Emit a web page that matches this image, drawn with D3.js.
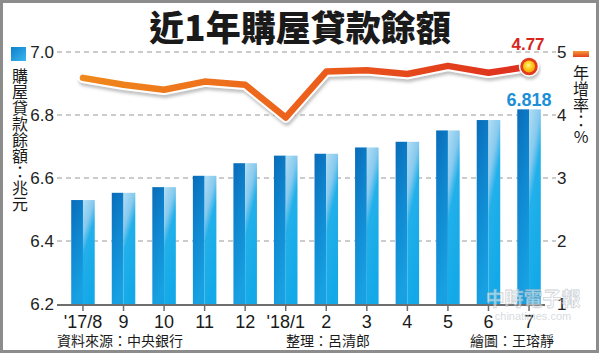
<!DOCTYPE html>
<html>
<head>
<meta charset="utf-8">
<script src="https://cdn.jsdelivr.net/npm/d3@7"></script>
<style>
  html, body { margin: 0; padding: 0; background: #fff; }
  svg { display: block; }
</style>
</head>
<body>
<svg id="chart"></svg>
<script>
const width = 600;
const height = 354;

// 資料
const months = ["'17/8", "9", "10", "11", "12", "'18/1", "2", "3", "4", "5", "6", "7"];
const loanBalance = [6.530, 6.553, 6.571, 6.607, 6.647, 6.671, 6.677, 6.697, 6.715, 6.751, 6.784, 6.818];
const growthRate = [4.59, 4.48, 4.40, 4.53, 4.48, 3.96, 4.69, 4.71, 4.65, 4.78, 4.67, 4.77];
const leftTicks = [6.2, 6.4, 6.6, 6.8, 7.0];
const rightTicks = [1, 2, 3, 4, 5];

const cjk = "'Noto Sans CJK TC', 'Noto Sans', sans-serif";
const num = "'Liberation Sans', Arial, sans-serif";
const narrow = "'Liberation Sans Narrow', 'Liberation Sans', sans-serif";

const svg = d3.select("#chart").attr("width", width).attr("height", height);

const defs = svg.append("defs");

// 柱子漸層
const gDark = defs.append("linearGradient").attr("id", "barDark")
  .attr("x1", 0).attr("y1", 0).attr("x2", 0.25).attr("y2", 1);
gDark.append("stop").attr("offset", 0).attr("stop-color", "#0a6cb9");
gDark.append("stop").attr("offset", 0.45).attr("stop-color", "#0f86cf");
gDark.append("stop").attr("offset", 1).attr("stop-color", "#17a0e2");

const gLight = defs.append("linearGradient").attr("id", "barLight")
  .attr("x1", 0).attr("y1", 0).attr("x2", 0.35).attr("y2", 1);
gLight.append("stop").attr("offset", 0).attr("stop-color", "#b3def3");
gLight.append("stop").attr("offset", 0.3).attr("stop-color", "#86c9ee");
gLight.append("stop").attr("offset", 0.48).attr("stop-color", "#22b0ea");
gLight.append("stop").attr("offset", 1).attr("stop-color", "#13a9e8");

const gLegendBlue = defs.append("linearGradient").attr("id", "legBlue")
  .attr("x1", 0).attr("y1", 0).attr("x2", 1).attr("y2", 1);
gLegendBlue.append("stop").attr("offset", 0).attr("stop-color", "#0d7fcc");
gLegendBlue.append("stop").attr("offset", 1).attr("stop-color", "#3ab8ee");

const gLegendRed = defs.append("linearGradient").attr("id", "legRed")
  .attr("x1", 0).attr("y1", 0).attr("x2", 0).attr("y2", 1);
gLegendRed.append("stop").attr("offset", 0).attr("stop-color", "#f59a3a");
gLegendRed.append("stop").attr("offset", 1).attr("stop-color", "#e2401c");

const shadow = defs.append("filter").attr("id", "shadow")
  .attr("x", "-10%").attr("y", "-30%").attr("width", "120%").attr("height", "160%");
shadow.append("feDropShadow").attr("dx", 1).attr("dy", 3).attr("stdDeviation", 1.6)
  .attr("flood-color", "#777").attr("flood-opacity", 0.45);

const marker = defs.append("radialGradient").attr("id", "dot")
  .attr("cx", "45%").attr("cy", "40%").attr("r", "60%");
marker.append("stop").attr("offset", 0).attr("stop-color", "#fff6a8");
marker.append("stop").attr("offset", 0.45).attr("stop-color", "#ffd21f");
marker.append("stop").attr("offset", 1).attr("stop-color", "#f5a20e");

// 外框
svg.append("rect").attr("x", 1.5).attr("y", 1.5).attr("width", 596).attr("height", 350)
  .attr("fill", "#fff").attr("stroke", "#8c8c8c").attr("stroke-width", 3);

// 比例尺
const x = d3.scaleBand().domain(months).range([62.7, 549.3]).paddingInner(0.42).paddingOuter(0.21);
const yL = d3.scaleLinear().domain([6.2, 7.0]).range([304, 52]);
const yR = d3.scaleLinear().domain([1, 5]).range([304, 52]);

// 標題
svg.append("text").attr("x", 300).attr("y", 41).attr("text-anchor", "middle")
  .attr("font-family", cjk).attr("font-weight", 900).attr("font-size", 35)
  .attr("fill", "#1a1a1a").text("近1年購屋貸款餘額");

// 格線
svg.append("g").selectAll("line").data(leftTicks.slice(1)).join("line")
  .attr("x1", 57).attr("x2", 556)
  .attr("y1", (d) => yL(d)).attr("y2", (d) => yL(d))
  .attr("stroke", "#9a9a9a").attr("stroke-width", 1.2).attr("stroke-dasharray", "5,4");

// 左軸標籤
svg.append("g").selectAll("text").data(leftTicks).join("text")
  .attr("x", 54).attr("y", (d) => yL(d) + 6)
  .attr("text-anchor", "end").attr("font-family", num).attr("font-size", 17)
  .attr("fill", "#222").text((d) => d.toFixed(1));

// 右軸標籤
svg.append("g").selectAll("text").data(rightTicks).join("text")
  .attr("x", 557).attr("y", (d) => yR(d) + 6)
  .attr("font-family", num).attr("font-size", 17)
  .attr("fill", "#222").text((d) => d);

// 柱狀圖
const bars = svg.append("g").selectAll("g").data(months).join("g");
bars.append("rect")
  .attr("x", (d) => x(d)).attr("width", x.bandwidth() / 2)
  .attr("y", (d, i) => yL(loanBalance[i])).attr("height", (d, i) => yL(6.2) - yL(loanBalance[i]))
  .attr("fill", "url(#barDark)");
bars.append("rect")
  .attr("x", (d) => x(d) + x.bandwidth() / 2).attr("width", x.bandwidth() / 2)
  .attr("y", (d, i) => yL(loanBalance[i])).attr("height", (d, i) => yL(6.2) - yL(loanBalance[i]))
  .attr("fill", "url(#barLight)");

// 底線與刻度
svg.append("line").attr("x1", 57).attr("x2", 545).attr("y1", yL(6.2) + 1).attr("y2", yL(6.2) + 1)
  .attr("stroke", "#6e6e6e").attr("stroke-width", 2);
svg.append("g").selectAll("line").data(months).join("line")
  .attr("x1", (d) => x(d) + x.bandwidth() / 2).attr("x2", (d) => x(d) + x.bandwidth() / 2)
  .attr("y1", yL(6.2) + 2).attr("y2", yL(6.2) + 7)
  .attr("stroke", "#6e6e6e").attr("stroke-width", 1.5);

// X 軸標籤
svg.append("g").selectAll("text").data(months).join("text")
  .attr("x", (d) => x(d) + x.bandwidth() / 2).attr("y", 328)
  .attr("text-anchor", "middle").attr("font-family", num).attr("font-size", 18)
  .attr("fill", "#1a1a1a").text((d) => d);

// 年增率折線
const lineGrad = defs.append("linearGradient").attr("id", "lineGrad")
  .attr("gradientUnits", "userSpaceOnUse")
  .attr("x1", x(months[0])).attr("x2", x(months[months.length - 1]) + x.bandwidth())
  .attr("y1", 0).attr("y2", 0);
lineGrad.append("stop").attr("offset", 0).attr("stop-color", "#f08a1a");
lineGrad.append("stop").attr("offset", 0.5).attr("stop-color", "#ec601c");
lineGrad.append("stop").attr("offset", 1).attr("stop-color", "#dc2a20");

const line = d3.line()
  .x((d, i) => x(months[i]) + x.bandwidth() / 2)
  .y((d) => yR(d));

const lineG = svg.append("g").attr("filter", "url(#shadow)");
lineG.append("path").datum(growthRate).attr("d", line)
  .attr("fill", "none").attr("stroke", "#fff").attr("stroke-width", 10.5)
  .attr("stroke-linejoin", "round").attr("stroke-linecap", "round");
lineG.append("path").datum(growthRate).attr("d", line)
  .attr("fill", "none").attr("stroke", "url(#lineGrad)").attr("stroke-width", 6.5)
  .attr("stroke-linejoin", "round").attr("stroke-linecap", "round");

// 最後一點
const lastX = x(months[11]) + x.bandwidth() / 2;
const lastY = yR(growthRate[11]);
svg.append("circle").attr("cx", lastX).attr("cy", lastY).attr("r", 9.5)
  .attr("fill", "#e23a1e").attr("stroke", "#fff").attr("stroke-width", 1.5)
  .attr("filter", "url(#shadow)");
svg.append("circle").attr("cx", lastX).attr("cy", lastY).attr("r", 6)
  .attr("fill", "url(#dot)");

// 數值標示
svg.append("text").attr("x", lastX - 1).attr("y", 50).attr("text-anchor", "middle")
  .attr("font-family", narrow).attr("font-weight", "bold").attr("font-size", 17)
  .attr("fill", "#d7261e").text(growthRate[11].toFixed(2));
svg.append("text").attr("x", lastX).attr("y", 106).attr("text-anchor", "middle")
  .attr("font-family", narrow).attr("font-weight", "bold").attr("font-size", 18)
  .attr("fill", "#1b8fd8").text(loanBalance[11].toFixed(3));

// 左側圖例（直排）
svg.append("rect").attr("x", 11).attr("y", 47).attr("width", 15).attr("height", 14)
  .attr("fill", "url(#legBlue)");
svg.append("text").attr("x", 20).attr("y", 68)
  .style("writing-mode", "vertical-rl").style("text-orientation", "upright")
  .attr("font-family", cjk).attr("font-size", 16)
  .attr("fill", "#1a1a1a").text("購屋貸款餘額：兆元");

// 右側圖例（直排）
svg.append("rect").attr("x", 573).attr("y", 51).attr("width", 16).attr("height", 6)
  .attr("fill", "url(#legRed)");
svg.append("text").attr("x", 581).attr("y", 65)
  .style("writing-mode", "vertical-rl").style("text-orientation", "upright")
  .attr("font-family", cjk).attr("font-size", 16)
  .attr("fill", "#1a1a1a").text("年增率：%");

// 資料來源等
const notes = [
  { t: "資料來源：中央銀行", x: 57 },
  { t: "整理：呂清郎", x: 286 },
  { t: "繪圖：王瑢靜", x: 470 }
];
svg.append("g").selectAll("text").data(notes).join("text")
  .attr("x", (d) => d.x).attr("y", 346)
  .attr("font-family", cjk).attr("font-size", 14)
  .attr("fill", "#1a1a1a").text((d) => d.t);

// 浮水印
svg.append("text").attr("x", 533).attr("y", 306).attr("text-anchor", "middle")
  .attr("font-family", cjk).attr("font-weight", "bold").attr("font-size", 19)
  .attr("fill", "#fff").attr("fill-opacity", 0.55)
  .attr("stroke", "#9aa4ad").attr("stroke-opacity", 0.5).attr("stroke-width", 0.8)
  .text("中時電子報");
svg.append("text").attr("x", 533).attr("y", 320).attr("text-anchor", "middle")
  .attr("font-family", num).attr("font-size", 11)
  .attr("fill", "#c4cbd1").attr("fill-opacity", 0.7)
  .text("chinatimes.com");
</script>
</body>
</html>
